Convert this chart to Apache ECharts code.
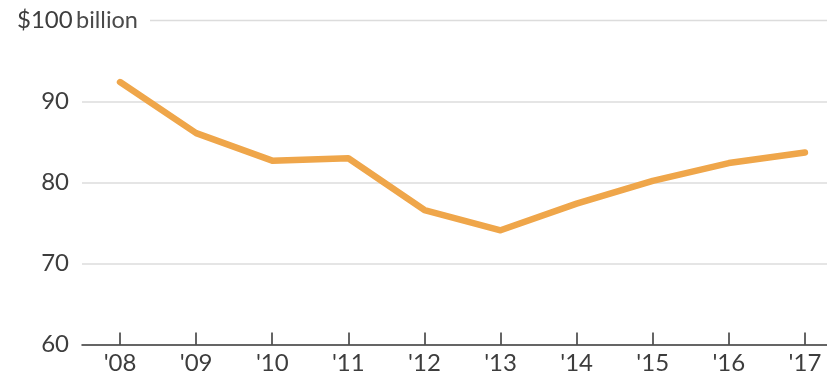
<!DOCTYPE html>
<html>
<head>
<meta charset="utf-8">
<script src="https://cdn.jsdelivr.net/npm/echarts@6/dist/echarts.min.js"></script>
<style>
  html, body { margin: 0; padding: 0; background: #fff; }
  #chart { width: 827px; height: 379px; }
</style>
</head>
<body>
<div id="chart"></div>
<script>
// Annual totals, in billions of dollars
const years = [2008, 2009, 2010, 2011, 2012, 2013, 2014, 2015, 2016, 2017];
const yearLabels = ["'08", "'09", "'10", "'11", "'12", "'13", "'14", "'15", "'16", "'17"];
const values = [92.4, 86.1, 82.7, 83.0, 76.6, 74.1, 77.4, 80.2, 82.4, 83.7];
const yTicks = [60, 70, 80, 90, 100];
const topLabelNumber = '$100';
const topLabelUnit = 'billion';

const FONT = 'Lato, "Open Sans", sans-serif';
const TEXT = '#3d3d3d';

const chart = echarts.init(document.getElementById('chart'), null, { renderer: 'canvas' });

chart.setOption({
  animation: false,
  backgroundColor: '#ffffff',
  grid: { left: 82, right: 0, top: 20.5, bottom: 34.5, containLabel: false },
  xAxis: {
    type: 'value',
    min: years[0] - 0.5,
    max: years[years.length - 1] + 0.29,
    splitLine: { show: false },
    axisLine: { show: true, lineStyle: { color: '#333', width: 1.5 } },
    axisTick: {
      show: true, inside: true, length: 12,
      customValues: years,
      lineStyle: { color: '#333', width: 1.5 }
    },
    axisLabel: {
      customValues: years,
      margin: 7,
      color: TEXT,
      fontFamily: FONT,
      fontSize: 24,
      formatter: v => yearLabels[years.indexOf(Math.round(v))]
    }
  },
  yAxis: {
    type: 'value',
    min: yTicks[0],
    max: yTicks[yTicks.length - 1],
    interval: 10,
    axisLine: { show: false },
    axisTick: { show: false },
    splitLine: {
      show: true, showMinLine: false, showMaxLine: false,
      lineStyle: { color: '#dcdcdc', width: 1.5 }
    },
    axisLabel: {
      margin: 13,
      color: TEXT,
      fontFamily: FONT,
      fontSize: 24,
      formatter: v => (v === yTicks[yTicks.length - 1] ? '' : String(v))
    }
  },
  series: [{
    type: 'line',
    data: years.map((y, i) => [y, values[i]]),
    symbol: 'none',
    lineStyle: { color: '#EFA64A', width: 6.5, cap: 'round', join: 'round' }
  }]
});

// Top gridline starts after the unit label, which sits at the 100 mark
const yTop = chart.convertToPixel({ yAxisIndex: 0 }, yTicks[yTicks.length - 1]);
chart.setOption({
  graphic: [
    {
      type: 'line', silent: true,
      shape: { x1: 150, y1: yTop, x2: 827, y2: yTop },
      style: { stroke: '#dcdcdc', lineWidth: 1.5 }
    },
    {
      type: 'text', silent: true,
      x: 17, y: yTop,
      style: {
        text: '{a|' + topLabelNumber + '} {b|' + topLabelUnit + '}',
        verticalAlign: 'middle',
        fill: TEXT,
        rich: {
          a: { fontFamily: FONT, fontSize: 24, fill: TEXT },
          b: { fontFamily: FONT, fontSize: 23.5, fill: '#4a4a4a' }
        }
      }
    }
  ]
});
</script>
</body>
</html>
